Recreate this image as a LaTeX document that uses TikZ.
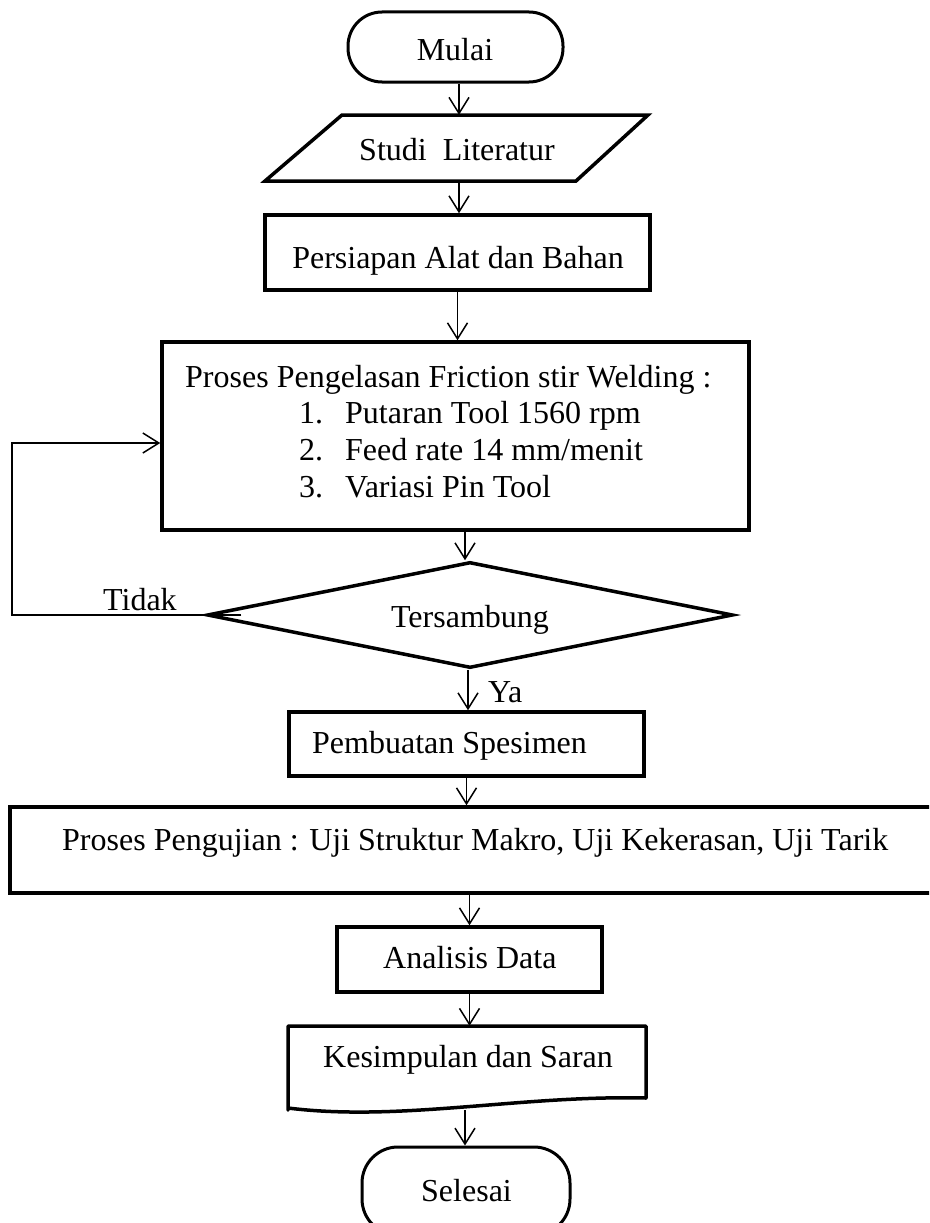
\documentclass[tikz,border=0pt]{standalone}
\usepackage{fontspec}
\setmainfont{Liberation Serif}
\usetikzlibrary{arrows.meta,shapes.geometric}
\begin{document}
\begin{tikzpicture}[x=1pt,y=-1pt,
  shapebox/.style={draw, line width=3.5pt, inner sep=0pt},
  txt/.style={inner sep=0pt, anchor=base west, font=\fontsize{32}{38}\selectfont},
  txtc/.style={inner sep=0pt, anchor=base, font=\fontsize{32}{38}\selectfont},
  arr/.style={line width=1.5pt, -{Straight Barb[length=16pt,width=20pt,line width=1.5pt]}}
]
\useasboundingbox (0,0) rectangle (929,1223);
\clip (0,0) rectangle (929,1223);

% shapes
\node[shapebox, line width=3pt, rounded corners=34pt, minimum width=215pt, minimum height=70pt] (mulai) at (455.5,47) {};
\node[inner sep=0pt, minimum width=306pt, minimum height=66pt] (studi) at (457,148) {};
\draw[line width=3.5pt, line join=miter] (342,115) -- (648,115) -- (576,181) -- (265,181) -- cycle;
\node[shapebox, minimum width=385pt, minimum height=75pt] (persiapan) at (457.5,252.5) {};
\node[shapebox, minimum width=587pt, minimum height=188pt] (proses) at (455.5,436) {};
\node[shapebox, diamond, shape aspect=5, minimum width=526pt, minimum height=106pt] (dec) at (470,615) {};
\node[shapebox, minimum width=355pt, minimum height=64pt] (pembuatan) at (466.5,744) {};
\node[shapebox, minimum width=950pt, minimum height=86pt] (pengujian) at (485,850) {};
\node[shapebox, minimum width=265pt, minimum height=65pt] (analisis) at (469.5,959.5) {};
\node[inner sep=0pt, minimum width=358pt, minimum height=84pt] (kesimpulan) at (467,1068) {};
\draw[line width=3.5pt, line join=round] (288,1110) -- (288,1026) -- (646,1026) -- (646,1098)
  .. controls (520,1095) and (400,1122) .. (288,1108) -- cycle;
\node[shapebox, line width=3pt, rounded corners=36pt, minimum width=208pt, minimum height=88pt] (selesai) at (466,1191) {};

% texts
\node[txtc] (mulaiT) at (455,60) {Mulai};
\node[txtc] (studiT) at (457,160) {Studi\ \ Literatur};
\node[txtc] (persiapanT) at (458,268) {Persiapan Alat dan Bahan};
\node[txt] (prosesT) at (185,387) {Proses Pengelasan Friction stir Welding :};
\node[txt] (n1) at (299,423) {1.};
\node[txt] (i1) at (345,423) {Putaran Tool 1560 rpm};
\node[txt] (n2) at (299,460) {2.};
\node[txt] (i2) at (345,460) {Feed rate 14 mm/menit};
\node[txt] (n3) at (299,497) {3.};
\node[txt] (i3) at (345,497) {Variasi Pin Tool};
\node[txtc] (decT) at (470,627) {Tersambung};
\node[txt] (tidak) at (103,610) {Tidak};
\node[txt] (ya) at (488,702) {Ya};
\node[txt] (pembuatanT) at (312,753) {Pembuatan Spesimen};
\node[txt] (pengujianT) at (62,850) {Proses Pengujian : Uji Struktur Makro, Uji Kekerasan, Uji Tarik};
\node[txt] (analisisT) at (383,968) {Analisis Data};
\node[txt] (kesimpulanT) at (323,1067) {Kesimpulan dan Saran};
\node[txt] (selesaiT) at (421,1201) {Selesai};

% connectors
\coordinate (loopc) at (12,443);
\draw[arr] ([xshift=3.5pt]mulai.south) -- ([xshift=3.5pt]mulai.south |- studi.north);
\draw[arr] ([xshift=2pt]studi.south) -- ([xshift=2pt]studi.south |- persiapan.north);
\draw[arr] (persiapan.south) -- (persiapan.south |- proses.north);
\draw[arr] ([xshift=9.5pt]proses.south) -- ([xshift=9.5pt]proses.south |- dec.north);
\draw[arr] ([xshift=-2pt]dec.south) -- ([xshift=-2pt]dec.south |- pembuatan.north);
\draw[arr] (pembuatan.south) -- (pembuatan.south |- pengujian.north);
\draw[arr] (pengujian.south -| analisis.south) -- (analisis.north);
\draw[arr] (analisis.south) -- (analisis.south |- kesimpulan.north);
\draw[arr] ([xshift=-2pt]kesimpulan.south) -- ([xshift=-2pt]kesimpulan.south |- selesai.north);
\draw[arr] ([xshift=36pt]dec.west) -| (loopc) -- (loopc -| proses.west);
\end{tikzpicture}
\end{document}
